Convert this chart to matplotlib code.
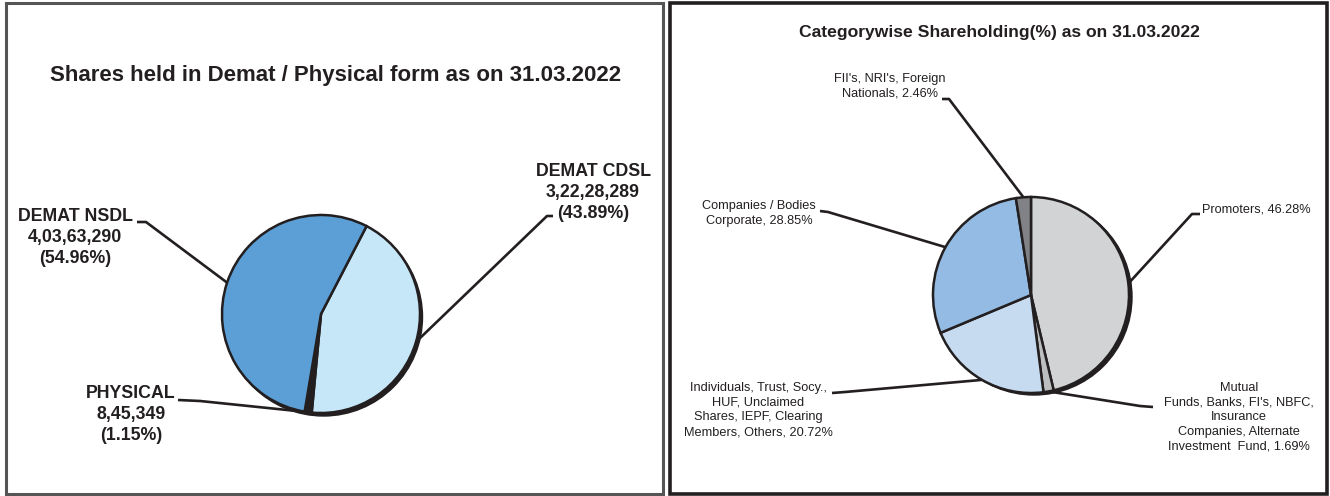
import numpy as np
import matplotlib
matplotlib.use('Agg')
import matplotlib.pyplot as plt
from matplotlib.patches import Rectangle, Circle

plt.rcParams['font.family'] = ['Liberation Sans', 'DejaVu Sans']

# left chart data
demat_labels = ['DEMAT CDSL', 'PHYSICAL', 'DEMAT NSDL']
demat_shares = [32228289, 845349, 40363290]
demat_share_text = ['3,22,28,289', '8,45,349', '4,03,63,290']
demat_pct = ['43.89%', '1.15%', '54.96%']
demat_colors = ['#c6e7f7', '#231f20', '#5b9fd6']

# right chart data
cat_labels = ['Promoters',
              'Mutual\nFunds, Banks, FI\'s, NBFC,\nInsurance\nCompanies, Alternate\nInvestment  Fund',
              'Individuals, Trust, Socy.,\nHUF, Unclaimed\nShares, IEPF, Clearing\nMembers, Others',
              'Companies / Bodies\nCorporate',
              'FII\'s, NRI\'s, Foreign\nNationals']
cat_pct = [46.28, 1.69, 20.72, 28.85, 2.46]
cat_colors = ['#d1d3d4', '#bcbec0', '#c6dbf0', '#94bbe3', '#808285']

W, H = 1330, 496
INK = '#231f20'

fig = plt.figure(figsize=(13.3, 4.96), dpi=100)
ax = fig.add_axes([0, 0, 1, 1])


def Y(y):
    # image row -> axes y
    return H - y


def draw_pie(values, colors, cx, cy, r, start, shadow):
    ax.add_patch(Circle((cx + shadow[0], cy + shadow[1]), r, color=INK, zorder=1))
    wedges, _ = ax.pie(values, colors=colors, startangle=start, counterclock=False,
                       center=(cx, cy), radius=r,
                       wedgeprops=dict(edgecolor=INK, linewidth=1.8, zorder=2))
    return wedges


def anchor(w):
    a = np.deg2rad((w.theta1 + w.theta2) / 2)
    return w.center[0] + w.r * np.cos(a), w.center[1] + w.r * np.sin(a)


def leader(w, pts):
    x0, y0 = anchor(w)
    xs = [x0] + [p[0] for p in pts]
    ys = [y0] + [Y(p[1]) for p in pts]
    ax.plot(xs, ys, color=INK, lw=1.9, solid_capstyle='butt', zorder=3)


# panel frames
ax.add_patch(Rectangle((6, Y(494)), 657, 491, fill=False, edgecolor='#555555', lw=2.2))
ax.add_patch(Rectangle((670, Y(494)), 657, 491, fill=False, edgecolor=INK, lw=2.6))

# ---- left panel ----
ax.text(336, Y(75), 'Shares held in Demat / Physical form as on 31.03.2022',
        ha='center', va='center', fontsize=16, fontweight='bold', color=INK)

lw = draw_pie(demat_shares, demat_colors, 321, Y(314), 99, 62.6, (2.5, -3))

left_text_pos = [(593, 172), (131, 394), (75, 217)]
left_leaders = [[(547, 216), (553, 216)],
                [(200, 401), (178, 400)],
                [(146, 222), (137, 222)]]
for i, w in enumerate(lw):
    tx, ty = left_text_pos[i]
    txt = demat_labels[i] + '\n' + demat_share_text[i] + '\n(' + demat_pct[i] + ')'
    ax.text(tx, Y(ty - 9), txt, ha='center', va='top', fontsize=12.8, fontweight='bold',
            color=INK, linespacing=1.32)
    leader(w, left_leaders[i])

# ---- right panel ----
ax.text(999, Y(33), 'Categorywise Shareholding(%) as on 31.03.2022',
        ha='center', va='center', fontsize=12.6, fontweight='bold', color=INK)

rw = draw_pie(cat_pct, cat_colors, 1031, Y(295), 98, 90, (3, -2))

right_text_pos = [(1202, 211, 'left'), (1239, 389, 'center'), (758, 389, 'center'),
                  (759, 207, 'center'), (890, 80, 'center')]
right_leaders = [[(1192, 214), (1200, 214)],
                 [(1140, 406), (1153, 407)],
                 [(845, 392), (832, 393)],
                 [(828, 212), (820, 211)],
                 [(949, 99), (942, 99)]]
for i, w in enumerate(rw):
    tx, ty, ha = right_text_pos[i]
    txt = cat_labels[i] + ', ' + '%.2f%%' % cat_pct[i]
    ax.text(tx, Y(ty - 7), txt, ha=ha, va='top', fontsize=9.2, color=INK,
            linespacing=1.3, multialignment='center')
    leader(w, right_leaders[i])

ax.set_xlim(0, W)
ax.set_ylim(0, H)
ax.set_aspect('auto')
ax.axis('off')

fig.savefig('out.png', dpi=100, facecolor='white')
